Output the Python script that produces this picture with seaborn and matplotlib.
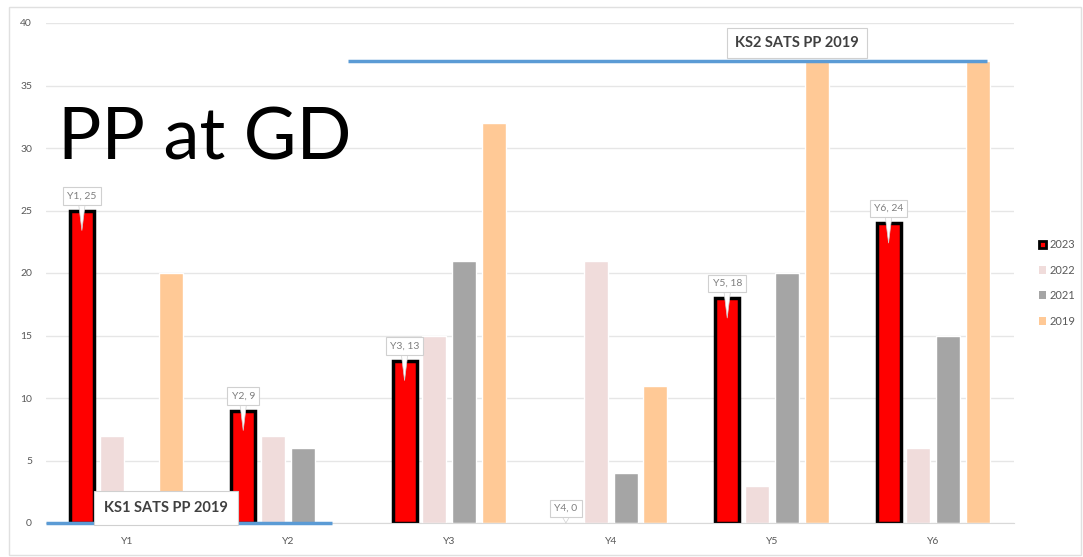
import pandas as pd
import matplotlib.pyplot as plt
import seaborn as sns
from matplotlib.patches import Rectangle

# --- data ---
years = ["Y1", "Y2", "Y3", "Y4", "Y5", "Y6"]
series = ["2023", "2022", "2021", "2019"]
pp_2023 = [25, 9, 13, 0, 18, 24]
pp_2022 = [7, 7, 15, 21, 3, 6]
pp_2021 = [0, 6, 21, 4, 20, 15]
pp_2019 = [20, 0, 32, 11, 37, 37]
ks1_value = 0
ks2_value = 37

colors = {"2023": "#FF0000", "2022": "#F0DCDB", "2021": "#A5A5A5", "2019": "#FFC996"}

df = pd.DataFrame({
    "year": years * 4,
    "series": [s for s in series for _ in years],
    "value": pp_2023 + pp_2022 + pp_2021 + pp_2019,
})

sns.set_style("white")
plt.rcParams["font.family"] = ["Lato", "DejaVu Sans"]

fig = plt.figure(figsize=(10.83, 5.57), dpi=100)
ax = fig.add_axes([46 / 1083, 1 - 523 / 557, 968 / 1083, 500 / 557])

sns.barplot(data=df, x="year", y="value", hue="series", hue_order=series,
            palette=colors, width=0.74, gap=0.2, ax=ax, legend=False,
            saturation=1)

# 2023 bars get a thick black outline (none when the bar is empty)
n = len(years)
bars_2023 = ax.patches[:n]
for p, v in zip(bars_2023, pp_2023):
    p.set_edgecolor("black")
    p.set_linewidth(2.5 if v > 0 else 0)

ax.set_ylim(0, 40)
ax.set_xlim(-0.5, 5.5)
ax.set_yticks(range(0, 41, 5))
ax.yaxis.grid(True, color="#E6E6E6", linewidth=1)
ax.set_axisbelow(True)
for s in ax.spines.values():
    s.set_visible(False)
ax.spines["bottom"].set_visible(True)
ax.spines["bottom"].set_color("#D9D9D9")
ax.tick_params(axis="both", length=0, labelsize=7.5, colors="#595959")
ax.tick_params(axis="x", pad=10)
ax.tick_params(axis="y", pad=10)
ax.set_xlabel("")
ax.set_ylabel("")

# reference lines
ax.plot([-0.5, 1.275], [ks1_value, ks1_value], color="#5B9BD5", lw=2.5,
        clip_on=False, zorder=5, solid_capstyle="butt")
ax.plot([1.374, 5.33], [ks2_value, ks2_value], color="#5B9BD5", lw=2.5,
        clip_on=False, zorder=5, solid_capstyle="butt")

ax.text(-0.14, 1.2, "KS1 SATS PP 2019", fontsize=10.5, fontweight="bold",
        color="#404040", zorder=6, ha="left", va="center",
        bbox=dict(boxstyle="square,pad=0.7", fc="white", ec="#D0D0D0", lw=0.8))
ax.text(3.77, 38.4, "KS2 SATS PP 2019", fontsize=10.5, fontweight="bold",
        color="#404040", zorder=6, ha="left", va="center",
        bbox=dict(boxstyle="square,pad=0.55", fc="white", ec="#D0D0D0", lw=0.8))

# callouts on the 2023 bars
for p, lab, v in zip(bars_2023, years, pp_2023):
    cx = p.get_x() + p.get_width() / 2
    ax.annotate(f"{lab}, {v}", xy=(cx, max(v - 1.6, 0)), xytext=(cx, v + 0.8),
                ha="center", va="bottom", fontsize=7.5, color="#7F7F7F",
                bbox=dict(boxstyle="square,pad=0.4", fc="white", ec="#D0D0D0", lw=0.8),
                arrowprops=dict(arrowstyle="wedge,tail_width=0.6", fc="white",
                                ec="#D0D0D0", lw=0.5, shrinkA=0, shrinkB=0),
                zorder=7)

# title
fig.text(58 / 1083, 1 - 160 / 557, "PP at GD", fontsize=52, color="black",
         ha="left", va="baseline")

# legend
handles = [Rectangle((0, 0), 1, 1, fc=colors[s],
                     ec="black" if s == "2023" else colors[s],
                     lw=2 if s == "2023" else 0) for s in series]
fig.legend(handles, series, loc="center left", bbox_to_anchor=(1033 / 1083, 1 - 283 / 557),
           frameon=False, fontsize=8, labelcolor="#595959", handlelength=0.7,
           handleheight=0.7, handletextpad=0.3, labelspacing=1.3, borderpad=0)

# outer chart border
fig.patches.append(Rectangle((9 / 1083, 2 / 557), 1072 / 1083, 548 / 557,
                             transform=fig.transFigure, fill=False,
                             ec="#E0E0E0", lw=1))

fig.savefig("out.png", dpi=100)
